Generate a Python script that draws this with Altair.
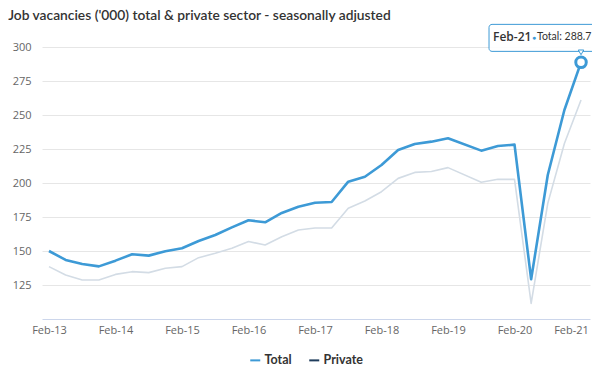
import altair as alt
import pandas as pd

periods = ["Feb-13", "May-13", "Aug-13", "Nov-13", "Feb-14", "May-14", "Aug-14", "Nov-14",
           "Feb-15", "May-15", "Aug-15", "Nov-15", "Feb-16", "May-16", "Aug-16", "Nov-16",
           "Feb-17", "May-17", "Aug-17", "Nov-17", "Feb-18", "May-18", "Aug-18", "Nov-18",
           "Feb-19", "May-19", "Aug-19", "Nov-19", "Feb-20", "May-20", "Aug-20", "Nov-20",
           "Feb-21"]
total = [150.0, 143.4, 140.4, 138.7, 142.9, 147.6, 146.6, 149.8,
         152.0, 157.4, 161.8, 167.4, 172.6, 171.1, 178.0, 182.6,
         185.5, 186.0, 201.0, 204.6, 213.2, 224.3, 228.7, 230.4,
         232.9, None, 223.8, 227.2, 228.2, 129.2, 205.9, 253.7,
         288.7]
private = [138.5, 132.4, 128.7, 128.7, 132.8, 134.8, 134.1, 137.3,
           138.5, 145.1, 148.3, 152.0, 157.0, 154.4, 160.5, 165.4,
           166.9, 166.9, 181.4, 186.8, 193.6, 203.4, 207.8, 208.5,
           211.3, None, 200.5, 202.7, 202.7, 111.5, 185.0, 229.0,
           261.0]
series_names = ["Total", "Private"]
y_ticks = [125, 150, 175, 200, 225, 250, 275, 300]
x_ticks = [0, 4, 8, 12, 16, 20, 24, 28, 32]

rows = []
for i, p in enumerate(periods):
    for name, vals in (("Total", total), ("Private", private)):
        if vals[i] is not None:
            rows.append({"idx": i, "period": p, "series": name, "value": vals[i]})
df = pd.DataFrame(rows)
df_total = df[df.series == "Total"]
df_private = df[df.series == "Private"]

last = df_total[df_total.idx == len(periods) - 1].copy()
last["date_label"] = last["period"]
last["val_label"] = "Total: " + last["value"].map(lambda v: f"{v:.1f}")

label_expr = "[" + ",".join("'" + p + "'" for p in periods) + "][datum.value]"

BLUE = "#3d9ad6"
NAVY = "#1f3d5c"
DIM = "#d3dce5"
FONT = "Open Sans"

x_scale = alt.Scale(domain=[-0.42, 32.54], nice=False, zero=False)
y_scale = alt.Scale(domain=[100, 300], nice=False, zero=False)

x_enc = alt.X("idx:Q", scale=x_scale,
              axis=alt.Axis(values=x_ticks, labelExpr=label_expr, title=None, grid=False,
                            ticks=False, domainColor="#ccd6eb", labelPadding=5,
                            labelOverlap=False,
                            labelOffset={"condition": {"test": "datum.value == 32", "value": -10}, "value": 0}))
y_enc = alt.Y("value:Q", scale=y_scale,
              axis=alt.Axis(values=y_ticks, title=None, domain=False, ticks=False,
                            gridColor="#e6e6e6", labelPadding=11, labelOverlap=False,
                            labelBound=False))

line_private = alt.Chart(df_private).mark_line(strokeJoin="round", color=DIM, strokeWidth=1.6).encode(
    x=x_enc, y=y_enc, order=alt.Order("idx:Q"))

line_total = alt.Chart(df_total).mark_line(strokeJoin="round", strokeWidth=2.6).encode(
    x=x_enc,
    y=y_enc,
    color=alt.Color("series:N",
                    scale=alt.Scale(domain=series_names, range=[BLUE, NAVY]),
                    legend=alt.Legend(title=None, orient="none", direction="horizontal",
                                      legendX=207, legendY=307, symbolType="stroke",
                                      symbolStrokeWidth=2, symbolSize=100, symbolOpacity=1,
                                      labelFont="Lato", labelFontSize=12.5, labelFontWeight=700,
                                      labelColor="#333333", columnPadding=13, labelOffset=3)),
    order=alt.Order("idx:Q"),
)

marker = alt.Chart(last).mark_point(shape="circle", size=110, filled=True, fill="white",
                                    stroke=BLUE, strokeWidth=3, opacity=1).encode(
    x=x_enc, y=y_enc)

box = alt.Chart(last).mark_rect(width=108, height=27, xOffset=-38, yOffset=-24.5,
                                fill="white", fillOpacity=0.92, stroke=BLUE, strokeWidth=1,
                                cornerRadius=3).encode(
    x=x_enc, y=y_enc)

arrow = alt.Chart(last).mark_point(shape="triangle-down", size=30, filled=True, fill="white",
                                   stroke=BLUE, strokeWidth=1, opacity=1, yOffset=-10).encode(
    x=x_enc, y=y_enc)

t_date = alt.Chart(last).mark_text(align="left", baseline="middle", dx=-88, dy=-25,
                                   font=FONT, fontSize=12, fontWeight=600, color="#333333").encode(
    x=x_enc, y=y_enc, text="date_label:N")
t_dot = alt.Chart(last).mark_text(align="center", baseline="middle", dx=-47, dy=-24,
                                  font=FONT, fontSize=7, color=BLUE).encode(
    x=x_enc, y=y_enc, text=alt.value("●"))
t_val = alt.Chart(last).mark_text(align="left", baseline="middle", dx=-44, dy=-25,
                                  font="Lato", fontSize=10.5, color="#333333").encode(
    x=x_enc, y=y_enc, text="val_label:N")

chart = alt.layer(line_private, line_total, marker, box, arrow, t_date, t_dot, t_val).properties(
    width=548, height=272,
    background="white",
    autosize=alt.AutoSizeParams(type="none"),
    padding={"left": 34, "top": 39, "right": 2, "bottom": 59},
    title=alt.TitleParams("Job vacancies ('000) total & private sector - seasonally adjusted",
                          anchor="start", dx=-4, dy=-1, offset=0,
                          font="Lato", fontSize=13.8, fontWeight=600, color="#333333"),
).configure_view(stroke=None).configure_axis(
    labelColor="#666666", labelFontSize=11, labelFont=FONT, labelOverlap=False
)

chart.save("out.html", embed_options={"renderer": "svg", "actions": False})
